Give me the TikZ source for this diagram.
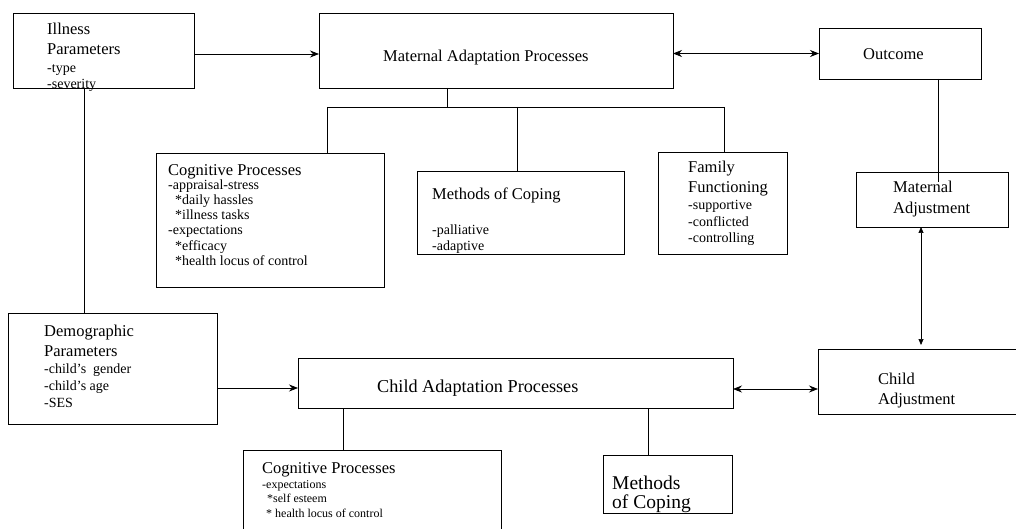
\documentclass[tikz,border=0pt]{standalone}
\usepackage{fontspec}
\setmainfont{Liberation Serif}
\usetikzlibrary{arrows.meta,calc}

\tikzset{
  box/.style={draw, line width=0.9pt, inner sep=0pt, outer sep=0pt},
  hd/.style={anchor=base west, inner sep=0pt, font=\fontsize{16.5}{18}\selectfont},
  dt/.style={anchor=base west, inner sep=0pt, font=\fontsize{14}{16}\selectfont},
  sm/.style={anchor=base west, inner sep=0pt, font=\fontsize{12}{14}\selectfont},
  link/.style={line width=0.7pt},
  arr/.style={link, -{Stealth[length=9pt,width=7pt,inset=3pt]}},
  darr/.style={link, {Stealth[length=9pt,width=7pt,inset=3pt]}-{Stealth[length=9pt,width=7pt,inset=3pt]}},
  vdarr/.style={link, {Triangle[length=6pt,width=5pt]}-{Triangle[length=6pt,width=5pt]}}
}

\begin{document}
\begin{tikzpicture}[x=1pt, y=-1pt]
\useasboundingbox (0,0) rectangle (1016,529);

% ---------- boxes ----------
\node[box, minimum width=181pt, minimum height=75pt]  (ill)     at (103.5,50.5) {};
\node[box, minimum width=354pt, minimum height=75pt]  (mat)     at (496,50.5)   {};
\node[box, minimum width=162pt, minimum height=51pt]  (out)     at (900,53.5)   {};
\node[box, minimum width=228pt, minimum height=134pt] (matcog)  at (270,220)    {};
\node[box, minimum width=207pt, minimum height=83pt]  (matmeth) at (520.5,212.5){};
\node[box, minimum width=129pt, minimum height=102pt] (fam)     at (722.5,203.5){};
\node[box, minimum width=152pt, minimum height=55pt]  (matadj)  at (932,199.5)  {};
\node[box, minimum width=209pt, minimum height=111pt] (demo)    at (112.5,368.5){};
\node[box, minimum width=435pt, minimum height=50pt]  (chad)    at (515.5,383)  {};
\node[box, minimum width=212pt, minimum height=65pt]  (chadj)   at (924,381.5)  {};
\node[box, minimum width=258pt, minimum height=90pt]  (chcog)   at (372,495)    {};
\node[box, minimum width=129pt, minimum height=58pt]  (chmeth)  at (667.5,484)  {};

% ---------- texts ----------
\node[hd] (ill1) at (47,35) {Illness};
\node[hd] (ill2) at (47,55) {Parameters};
\node[dt] (ill3) at (47,73) {-type};
\node[dt] (ill4) at (47,88.5) {-severity};

\node[hd] (mat1) at (383,62) {Maternal Adaptation Processes};

\node[hd] (out1) at (863,60) {Outcome};

\node[hd] (mc1) at (168,175.5) {Cognitive Processes};
\node[dt] (mc2) at (168,190) {-appraisal-stress};
\node[dt] (mc3) at (175,205) {*daily hassles};
\node[dt] (mc4) at (175,220) {*illness tasks};
\node[dt] (mc5) at (168,235) {-expectations};
\node[dt] (mc6) at (175,250) {*efficacy};
\node[dt] (mc7) at (175,265) {*health locus of control};

\node[hd] (mm1) at (432,200) {Methods of Coping};
\node[dt] (mm2) at (432,234) {-palliative};
\node[dt] (mm3) at (432,250) {-adaptive};

\node[hd] (ff1) at (688,173) {Family};
\node[hd] (ff2) at (688,193) {Functioning};
\node[dt] (ff3) at (688,210) {-supportive};
\node[dt] (ff4) at (688,226) {-conflicted};
\node[dt] (ff5) at (688,242) {-controlling};

\node[hd] (ma1) at (893,193) {Maternal};
\node[hd] (ma2) at (893,214) {Adjustment};

\node[hd] (dp1) at (44,336) {Demographic};
\node[hd] (dp2) at (44,356) {Parameters};
\node[dt] (dp3) at (44,373) {-child's\ \ gender};
\node[dt] (dp4) at (44,390) {-child's age};
\node[dt] (dp5) at (44,407) {-SES};

\node[hd, font=\fontsize{18.2}{20}\selectfont] (ca1) at (377,392) {Child Adaptation Processes};

\node[hd] (cc1) at (262,473) {Cognitive Processes};
\node[sm] (cc2) at (262,488) {-expectations};
\node[sm] (cc3) at (267,502) {*self esteem};
\node[sm] (cc4) at (266,517) {* health locus of control};

\node[hd, font=\fontsize{19.5}{21}\selectfont] (cm1) at (612,489) {Methods};
\node[hd, font=\fontsize{19.5}{21}\selectfont] (cm2) at (612,508.5) {of Coping};

\node[hd] (cj1) at (878,384.5) {Child};
\node[hd] (cj2) at (878,404.5) {Adjustment};

% ---------- connectors ----------
\draw[arr]  ([yshift=-3.5pt]ill.east) -- ([yshift=-3.5pt]mat.west);
\draw[darr] (mat.east |- out.west) -- (out.west);
\draw[link] ([xshift=38pt]out.south) -- ([xshift=38pt,yshift=-10pt]out.south |- matadj.north);
\draw[vdarr] ([xshift=-11pt]matadj.south) -- ([xshift=-11pt,yshift=4pt]matadj.south |- chadj.north);

% maternal processes tree
\coordinate (mtj) at (447,107);
\coordinate (mtl) at (327,107);
\coordinate (mtm) at (517,107);
\coordinate (mtr) at (724,107);
\draw[link] (mat.south -| mtj) -- (mtj);
\draw[link] (mtl) -- (mtr);
\draw[link] (mtl) -- (mtl |- matcog.north);
\draw[link] (mtm) -- (mtm |- matmeth.north);
\draw[link] (mtr) -- (mtr |- fam.north);

\draw[link] ([xshift=-19pt]ill.south) -- ([xshift=-19pt]ill.south |- demo.north);

\draw[arr]  ([yshift=-5pt]chad.west -| demo.east) -- ([yshift=-5pt]chad.west);
\draw[darr] ([yshift=-6pt]chad.east) -- ([yshift=-6pt]chad.east -| chadj.west);

% child processes tree
\draw[link] ([xshift=-172.5pt]chad.south) -- ([xshift=-172.5pt]chad.south |- chcog.north);
\draw[link] ([xshift=132.5pt]chad.south) -- ([xshift=132.5pt]chad.south |- chmeth.north);
\end{tikzpicture}
\end{document}
